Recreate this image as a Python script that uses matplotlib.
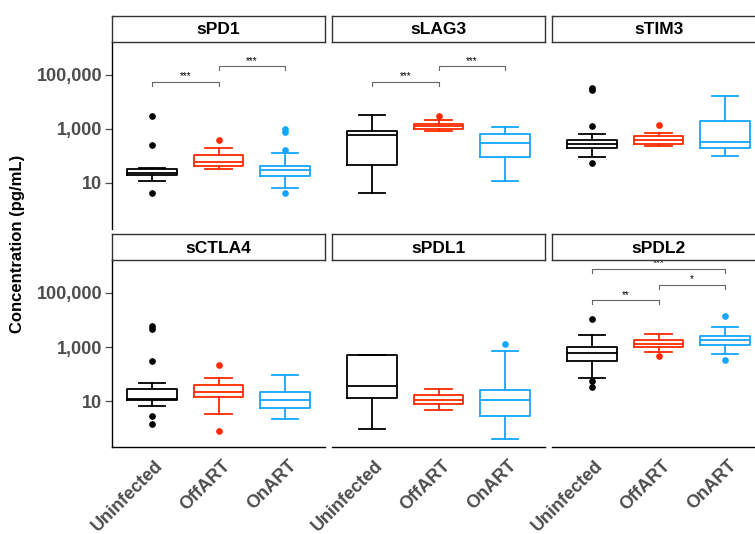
import matplotlib
matplotlib.use("Agg")
import matplotlib.pyplot as plt
from matplotlib.ticker import FixedLocator, FixedFormatter
from matplotlib.transforms import ScaledTranslation

plt.rcParams["font.family"] = ["Liberation Sans", "DejaVu Sans"]

# ---- data (pg/mL) ----
groups = ["Uninfected", "OffART", "OnART"]
markers = ["sPD1", "sLAG3", "sTIM3", "sCTLA4", "sPDL1", "sPDL2"]

# five-number summaries per group: [whisker low, q1, median, q3, whisker high]
spd1_stats = [[11.9, 19, 24, 32, 37], [32, 42, 60, 105, 195], [6.5, 18, 29, 42, 128]]
spd1_out = [[2900, 245, 4.1], [377], [1016, 760, 161, 4.3]]

slag3_stats = [[4.4, 46, 575, 809, 3340], [843, 957, 1237, 1556, 2180], [11.6, 94, 309, 627, 1164]]
slag3_out = [[], [2900], []]

stim3_stats = [[94, 202, 284, 399, 665], [232, 284, 399, 542, 700], [97, 202, 326, 1940, 16200]]
stim3_out = [[27000, 31000, 1268, 55], [1430], []]

sctla4_stats = [[6.5, 10.9, 12.3, 29, 48], [3.4, 14.5, 23, 41, 73], [2.3, 5.7, 11.6, 23, 97]]
sctla4_out = [[5860, 4700, 299, 3.0, 1.47], [213, 0.78], []]

spdl1_stats = [[0.98, 13.3, 36, 525, 525], [4.9, 8.2, 11.6, 16.6, 29], [0.42, 2.8, 10.9, 27, 700]]
spdl1_out = [[], [], [1346]]

spdl2_stats = [[75, 318, 611, 984, 2720], [643, 1016, 1346, 1782, 3150], [561, 1237, 1892, 2505, 5560]]
spdl2_out = [[11270, 55, 34], [458], [14500, 346]]

# significance brackets: (group a, group b, label)
spd1_sig = [(0, 1, "***"), (1, 2, "***")]
slag3_sig = [(0, 1, "***"), (1, 2, "***")]
spdl2_sig = [(0, 1, "**"), (1, 2, "*"), (0, 2, "***")]

stats = [spd1_stats, slag3_stats, stim3_stats, sctla4_stats, spdl1_stats, spdl2_stats]
outliers = [spd1_out, slag3_out, stim3_out, sctla4_out, spdl1_out, spdl2_out]
sigs = [spd1_sig, slag3_sig, [], [], [], spdl2_sig]

yticks = [10, 1000, 100000]
ytick_labels = ["10", "1,000", "100,000"]

colors = ["black", "#FF2A00", "#14A5FF"]

# ---- layout (pixels) ----
W, H = 755, 534
cols_x = [112, 332, 552]
panel_w = 213
rows = [(41.7, 228.5), (260, 447)]
strip_h = 26


def frac(x0, y0, x1, y1):
    return [x0 / W, 1 - y1 / H, (x1 - x0) / W, (y1 - y0) / H]


fig = plt.figure(figsize=(W / 100, H / 100), dpi=100)
fig.patch.set_facecolor("white")

grey = "#4D4D4D"

for k, name in enumerate(markers):
    r, c = divmod(k, 3)
    x0 = cols_x[c]
    y0, y1 = rows[r]
    ax = fig.add_axes(frac(x0, y0, x0 + panel_w, y1))

    for g in range(3):
        s = stats[k][g]
        st = dict(whislo=s[0], q1=s[1], med=s[2], q3=s[3], whishi=s[4], fliers=outliers[k][g])
        col = colors[g]
        lp = dict(color=col, linewidth=1.3)
        ax.bxp([st], positions=[g + 1], widths=0.75, capwidths=0.4,
               boxprops=lp, whiskerprops=lp, capprops=lp, medianprops=lp,
               flierprops=dict(marker="o", markerfacecolor=col, markeredgecolor=col,
                               markersize=3.8, linestyle="none"),
               manage_ticks=False)

    base, step, tick = 4.727, 0.58, 0.15
    for lvl, (a, b, lab) in enumerate(sigs[k]):
        yb = 10 ** (base + step * lvl)
        yt = 10 ** (base + step * lvl - tick)
        ax.plot([a + 1, a + 1, b + 1, b + 1], [yt, yb, yb, yt], color="#666666", lw=0.8)
        ax.text((a + b) / 2 + 1, 10 ** (base + step * lvl + 0.02), lab, ha="center",
                va="bottom", fontsize=7, color="black", clip_on=True)

    ax.set_yscale("log")
    ax.set_ylim(10 ** -0.68, 10 ** 6.21)
    ax.set_xlim(0.4, 3.6)
    ax.minorticks_off()
    ax.yaxis.set_major_locator(FixedLocator(yticks))
    for sp in ["top", "right"]:
        ax.spines[sp].set_visible(False)

    if c == 0:
        ax.spines["left"].set_linewidth(1.0)
        ax.yaxis.set_major_formatter(FixedFormatter(ytick_labels))
        ax.tick_params(axis="y", length=5, width=0.9, color=grey, pad=2,
                       labelsize=13, labelcolor=grey)
        for t in ax.get_yticklabels():
            t.set_fontweight("bold")
    else:
        ax.spines["left"].set_visible(False)
        ax.tick_params(axis="y", left=False, labelleft=False)

    if r == 1:
        ax.spines["bottom"].set_linewidth(1.0)
        ax.set_xticks([1, 2, 3])
        ax.set_xticklabels(groups, rotation=45, ha="right", va="top",
                           rotation_mode="anchor", fontsize=13, color=grey,
                           fontweight="bold")
        ax.tick_params(axis="x", length=0, pad=8)
        shift = ScaledTranslation(3 / 100, 1 / 100, fig.dpi_scale_trans)
        for t in ax.get_xticklabels():
            t.set_transform(t.get_transform() + shift)
    else:
        ax.spines["bottom"].set_visible(False)
        ax.set_xticks([])

    # facet strip
    sax = fig.add_axes(frac(x0, y0 - strip_h, x0 + panel_w, y0))
    sax.set_xticks([])
    sax.set_yticks([])
    for sp in sax.spines.values():
        sp.set_color("#333333")
        sp.set_linewidth(1.0)
    sax.text(0.5, 0.45, name, ha="center", va="center", fontsize=12.5,
             fontweight="bold", transform=sax.transAxes)

fig.text(18 / W, 1 - 244 / H, "Concentration (pg/mL)", rotation=90, ha="center",
         va="center", fontsize=12, fontweight="bold")

fig.savefig("out.png", dpi=100)
